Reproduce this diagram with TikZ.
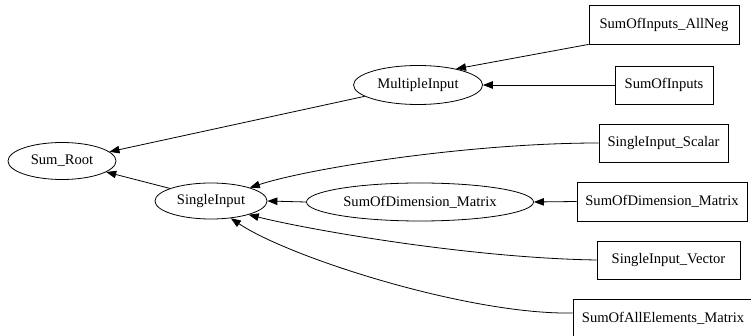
\documentclass[tikz,border=0pt]{standalone}
\usepackage{fontspec}
\setmainfont{Liberation Serif}
\usetikzlibrary{arrows.meta,shapes.geometric}
\begin{document}
\begin{tikzpicture}[x=1pt,y=-1pt,
  every node/.style={font=\fontsize{14.6}{17}\selectfont, inner sep=0pt, line width=0.8pt},
  oval/.style={draw, ellipse},
  box/.style={draw, rectangle},
  arr/.style={line width=0.8pt, -{Triangle[length=10pt,width=7.5pt]}}]
\useasboundingbox (0,0) rectangle (751,336);
\begin{scope}
\clip (0,0) rectangle (751,336);
% abstract groups
\node[oval, minimum width=108, minimum height=37] (root)   at (62,161)  {Sum\_Root};
\node[oval, minimum width=112, minimum height=36] (single) at (211,201) {SingleInput};
\node[oval, minimum width=129, minimum height=39] (multi)  at (418,85)  {MultipleInput};
\node[oval, minimum width=227, minimum height=38] (dimE)   at (420,202) {SumOfDimension\_Matrix};
% concrete tests
\node[box, minimum width=150, minimum height=39] (allneg) at (664,24.5)  {SumOfInputs\_AllNeg};
\node[box, minimum width=98,  minimum height=38] (sumin)  at (664,85)    {SumOfInputs};
\node[box, minimum width=129, minimum height=38] (scalar) at (663.5,143) {SingleInput\_Scalar};
\node[box, minimum width=170, minimum height=39] (dimB)   at (662,201.5) {SumOfDimension\_Matrix};
\node[box, minimum width=143, minimum height=38] (vector) at (668.5,260) {SingleInput\_Vector};
\node[box, minimum width=180, minimum height=38] (allel)  at (663,318)   {SumOfAllElements\_Matrix};
% inheritance edges
\draw[arr] (allneg.south west) -- (multi.23);
\draw[arr] (sumin.west) -- (multi.east);
\draw[arr] (multi.192.8) -- (root.11.7);
\draw[arr] (single.163.5) -- (root.-14.6);
\draw[arr] (scalar.west) .. controls (470,143) and (310,168) .. (single.19);
\draw[arr] (dimE.west) -- (single.east);
\draw[arr] (dimB.west) -- (dimE.east);
\draw[arr] (vector.west) .. controls (470,258) and (310,230) .. (single.-20);
\draw[arr] (allel.west |- 0,313) .. controls (470,315) and (290,258) .. (single.-41);
\end{scope}
\end{tikzpicture}
\end{document}
